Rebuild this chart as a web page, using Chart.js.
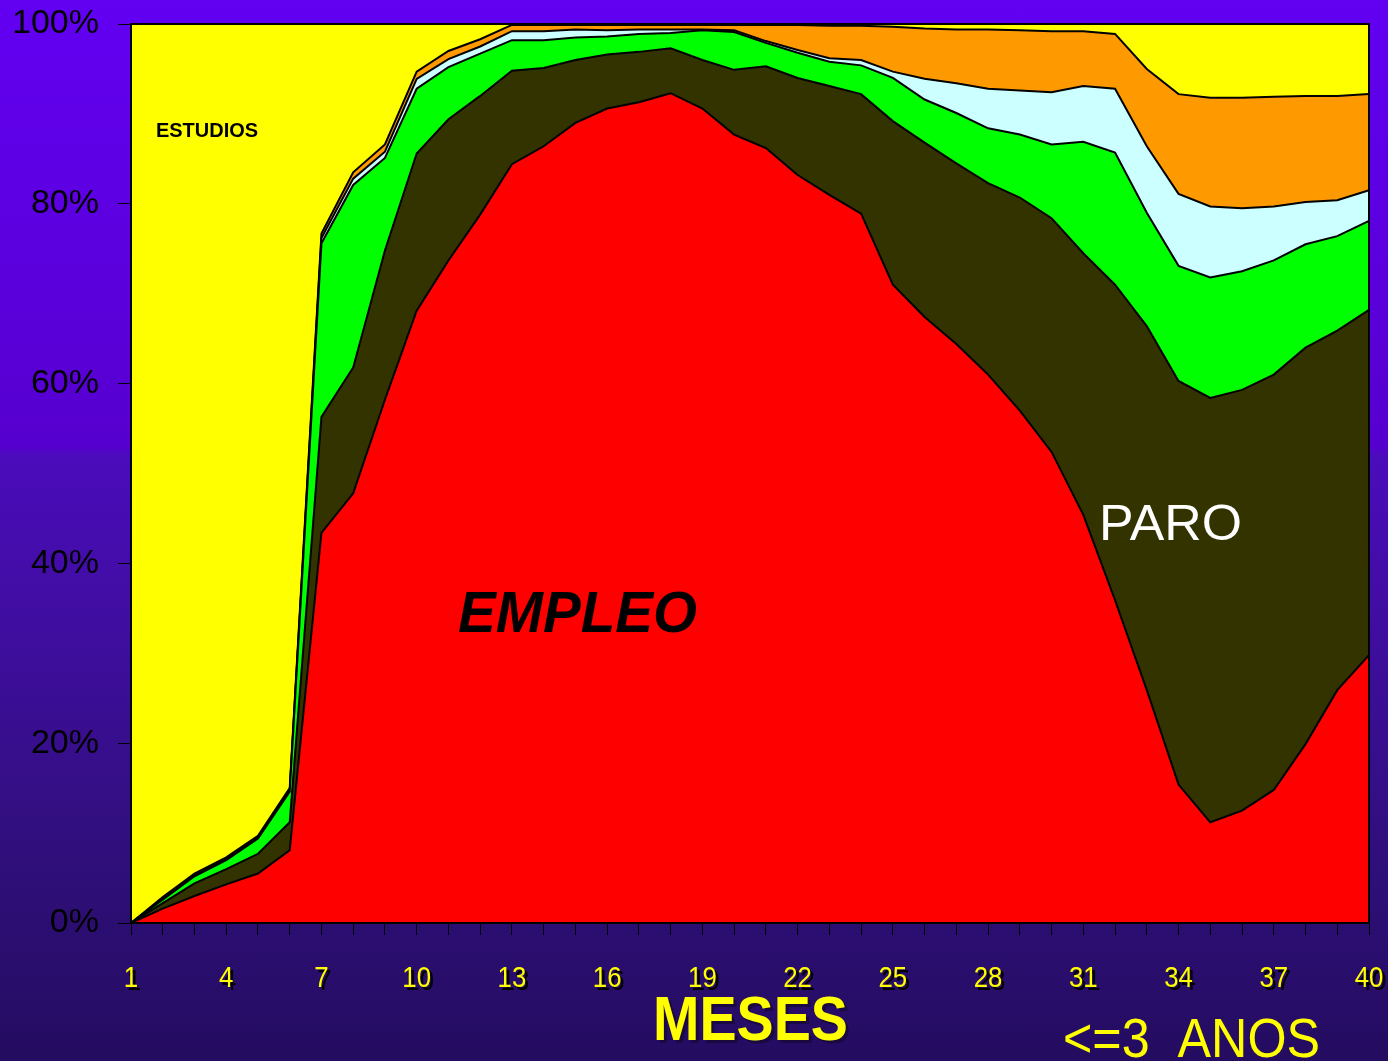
<!DOCTYPE html>
<html>
<head>
<meta charset="utf-8">
<script src="https://cdn.jsdelivr.net/npm/chart.js@4.4.0/dist/chart.umd.min.js"></script>
<style>
  html, body { margin: 0; padding: 0; }
  body {
    width: 1388px; height: 1061px; overflow: hidden;
    background: linear-gradient(to bottom, #6200f2 0%, #5600cf 42%, #4b0cbb 43%, #300f7c 80%, #240c60 100%);
  }
  canvas { display: block; }
</style>
</head>
<body>
<canvas id="myChart" width="1388" height="1061"></canvas>
<script>
const ctx = document.getElementById('myChart');

// months 1..40
const meses = [1, 2, 3, 4, 5, 6, 7, 8, 9, 10, 11, 12, 13, 14, 15, 16, 17, 18, 19, 20,
  21, 22, 23, 24, 25, 26, 27, 28, 29, 30, 31, 32, 33, 34, 35, 36, 37, 38, 39, 40];

// shares in % for each month (bottom to top)
const empleo = [0, 1.6, 3.0, 4.3, 5.5, 8.1, 43.4, 47.8, 58.2, 68.1, 73.7, 78.8, 84.4, 86.4, 89.0, 90.6, 91.3, 92.3, 90.6, 87.7,
  86.2, 83.2, 81.0, 78.9, 71.0, 67.4, 64.4, 61.0, 57.0, 52.4, 45.4, 35.9, 25.9, 15.4, 11.2, 12.5, 14.8, 19.9, 25.9, 29.8];
const paro = [0, 0.6, 1.4, 1.7, 2.2, 3.1, 12.9, 14.0, 16.6, 17.5, 15.7, 13.2, 10.4, 8.7, 7.0, 6.0, 5.6, 5.0, 5.4, 7.2,
  9.1, 10.8, 12.1, 13.3, 18.2, 19.4, 20.1, 21.3, 23.7, 26.0, 29.1, 35.1, 40.5, 44.9, 47.2, 46.8, 46.2, 44.1, 40.0, 38.4];
const verde = [0, 0.4, 0.8, 1.0, 1.7, 3.4, 19.3, 20.3, 10.3, 7.2, 5.8, 4.7, 3.4, 3.1, 2.5, 2.0, 2.0, 1.7, 3.3, 4.2,
  2.6, 2.8, 2.7, 3.2, 4.8, 4.8, 5.6, 6.1, 7.0, 8.2, 12.4, 14.7, 12.6, 12.8, 13.4, 13.2, 12.7, 11.5, 10.5, 9.9];
const celeste = [0, 0.1, 0.1, 0.1, 0.1, 0.1, 0.6, 0.7, 0.7, 1.1, 0.9, 0.8, 1.0, 1.0, 0.9, 0.7, 0.5, 0.4, 0.1, 0.2,
  0.2, 0.3, 0.4, 0.6, 0.7, 2.3, 3.3, 4.4, 4.9, 5.8, 6.2, 7.1, 7.4, 8.0, 7.9, 7.0, 6.0, 4.7, 4.0, 3.4];
const naranja = [0, 0.2, 0.2, 0.2, 0.2, 0.3, 0.5, 0.7, 0.8, 0.8, 0.9, 0.8, 0.7, 0.7, 0.5, 0.6, 0.5, 0.5, 0.5, 0.6,
  1.8, 2.8, 3.6, 3.8, 5.0, 5.6, 6.0, 6.6, 6.7, 6.8, 6.1, 6.1, 8.6, 11.1, 12.1, 12.3, 12.2, 11.8, 11.6, 10.7];
const estudios = [100, 97.1, 94.5, 92.7, 90.3, 85.0, 23.3, 16.5, 13.4, 5.3, 3.0, 1.7, 0.1, 0.1, 0.1, 0.1, 0.1, 0.1, 0.1, 0.1,
  0.1, 0.1, 0.2, 0.2, 0.3, 0.5, 0.6, 0.6, 0.7, 0.8, 0.8, 1.1, 5.0, 7.8, 8.2, 8.2, 8.1, 8.0, 8.0, 7.8];

const yTicks = [0, 20, 40, 60, 80, 100];
const FONT = "'Liberation Sans', Arial, sans-serif";

// text squeezed to a given width
function drawText(c, txt, x, y, width) {
  const w = c.measureText(txt).width;
  c.save();
  c.translate(x, y);
  c.scale(width / w, 1);
  c.fillText(txt, 0, 0);
  c.restore();
}

const textos = {
  id: 'textos',
  afterDraw(chart) {
    const c = chart.ctx;
    const area = chart.chartArea;
    const xs = chart.scales.x;

    // frame of the plot
    c.save();
    c.strokeStyle = '#000';
    c.lineWidth = 2;
    c.strokeRect(area.left, area.top, area.right - area.left, area.bottom - area.top);

    // month labels, every third one, yellow with black shadow
    c.font = '30px ' + FONT;
    c.textAlign = 'left';
    c.textBaseline = 'alphabetic';
    meses.forEach((m, i) => {
      if (i % 3 !== 0) return;
      const txt = String(m);
      const w = c.measureText(txt).width * 0.86;
      const x = xs.getPixelForValue(i) - w / 2;
      c.fillStyle = '#000';
      drawText(c, txt, x + 3, 990, w);
      c.fillStyle = '#ffff00';
      drawText(c, txt, x, 987, w);
    });

    c.font = 'bold 20px ' + FONT;
    c.fillStyle = '#000';
    drawText(c, 'ESTUDIOS', 156, 137, 102);

    c.font = 'italic bold 57px ' + FONT;
    drawText(c, 'EMPLEO', 458, 632, 239);

    c.font = '50px ' + FONT;
    c.fillStyle = '#ffffff';
    drawText(c, 'PARO', 1099, 540, 143);

    c.font = 'bold 63px ' + FONT;
    c.fillStyle = '#1a0840';
    drawText(c, 'MESES', 656, 1043, 195);
    c.fillStyle = '#ffff00';
    drawText(c, 'MESES', 653, 1040, 195);

    c.font = '56px ' + FONT;
    drawText(c, '<=3  ANOS', 1063, 1057, 257);
    c.restore();
  }
};

function serie(data, color, fill) {
  return {
    data: data,
    backgroundColor: color,
    borderColor: '#000',
    borderWidth: 2,
    fill: fill,
    pointRadius: 0,
    tension: 0,
  };
}

const myChart = new Chart(ctx, {
  type: 'line',
  data: {
    labels: meses,
    datasets: [
      serie(empleo, '#ff0000', 'origin'),
      serie(paro, '#333300', '-1'),
      serie(verde, '#00ff00', '-1'),
      serie(celeste, '#ccffff', '-1'),
      serie(naranja, '#ff9900', '-1'),
      serie(estudios, '#ffff00', '-1'),
    ],
  },
  options: {
    responsive: false,
    animation: false,
    layout: {
      padding: { top: 24, right: 19, left: 0, bottom: 0 },
    },
    plugins: {
      legend: { display: false },
      tooltip: { enabled: false },
    },
    scales: {
      x: {
        grid: { drawOnChartArea: false, tickLength: 12, color: '#000', lineWidth: 1 },
        border: { color: '#000', width: 2 },
        ticks: { autoSkip: false, maxRotation: 0, callback: () => '' },
        afterFit: (s) => {
          s.height = 138;
          s.paddingLeft = 0;
          s.paddingRight = 0;
        },
      },
      y: {
        stacked: true,
        min: 0,
        max: 100,
        afterBuildTicks: (s) => { s.ticks = yTicks.map((v) => ({ value: v })); },
        ticks: {
          callback: (v) => v + '%',
          color: '#000',
          font: { size: 34, family: FONT },
          padding: 19,
        },
        grid: { drawOnChartArea: false, tickLength: 13, color: '#000', lineWidth: 1 },
        border: { color: '#000', width: 2 },
        afterFit: (s) => {
          s.width = 131;
          s.paddingTop = 0;
          s.paddingBottom = 0;
        },
      },
    },
  },
  plugins: [textos],
});
</script>
</body>
</html>
